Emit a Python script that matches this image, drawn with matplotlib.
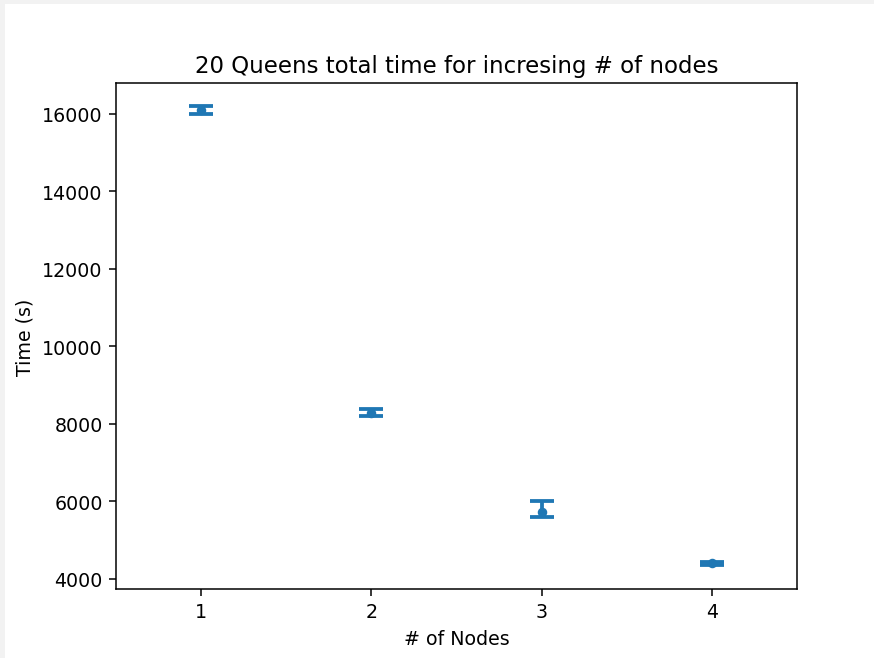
import matplotlib
matplotlib.use("Agg")
import matplotlib.pyplot as plt
from matplotlib.patches import Rectangle

nodes = [1, 2, 3, 4]
mean_time = [16100, 8290, 5740, 4400]
err_lower = [110, 95, 130, 45]
err_upper = [110, 90, 280, 45]
x_ticks = [1, 2, 3, 4]
y_ticks = [4000, 6000, 8000, 10000, 12000, 14000, 16000]

dpi = 137
fig = plt.figure(figsize=(874 / dpi, 659 / dpi), dpi=dpi, facecolor="#f2f2f2")
fig.patches.append(Rectangle((5 / 874, 0), 1, 1 - 5 / 659, transform=fig.transFigure,
                             facecolor="white", edgecolor="none", zorder=-1))

ax = fig.add_axes([116 / 874, 1 - 590 / 659, (797 - 116) / 874, (590 - 84) / 659])
ax.errorbar(nodes, mean_time, yerr=[err_lower, err_upper], fmt="o", markersize=4,
            color="#1f77b4", capsize=6.5, capthick=2, elinewidth=2)
ax.set_xlim(0.5, 4.5)
ax.set_ylim(3740, 16800)
ax.set_xticks(x_ticks)
ax.set_yticks(y_ticks)
ax.set_title("20 Queens total time for incresing # of nodes")
ax.set_xlabel("# of Nodes")
ax.set_ylabel("Time (s)")

fig.savefig("out.png", dpi=dpi, facecolor=fig.get_facecolor())
